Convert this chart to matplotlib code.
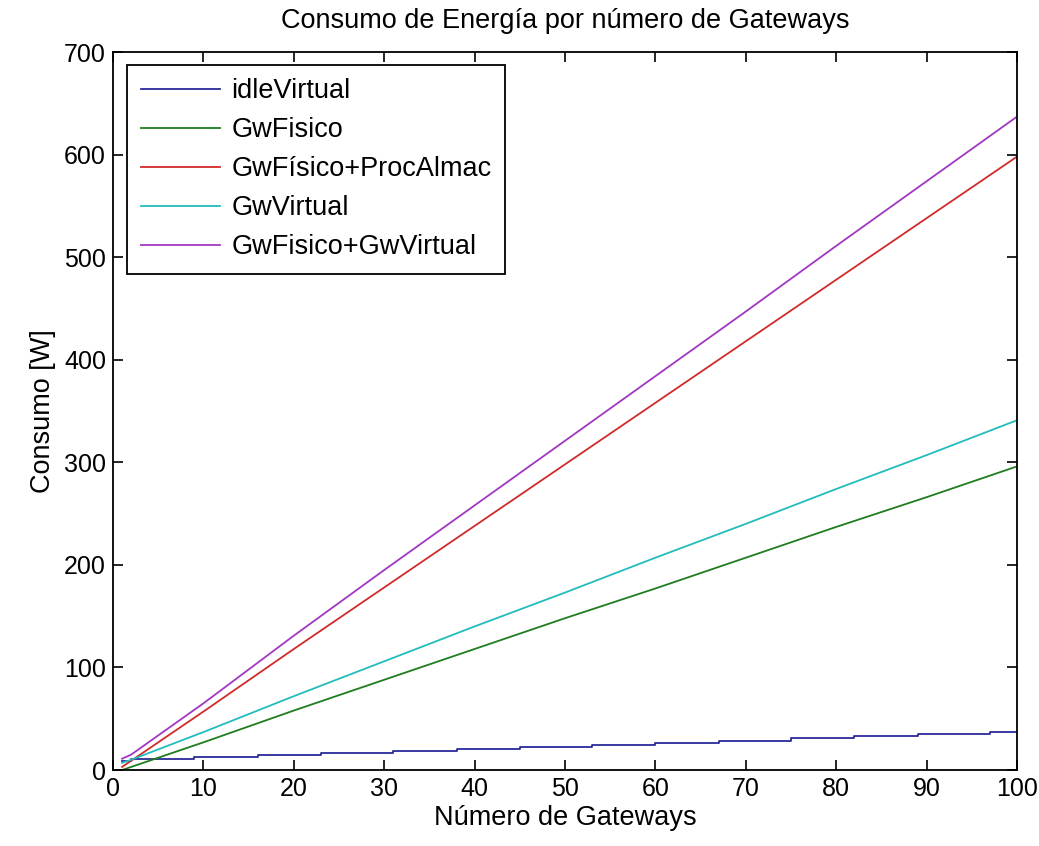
import matplotlib
matplotlib.use("Agg")
import matplotlib.pyplot as plt

# numero de gateways
gateways = [1, 2, 10, 20, 30, 40, 50, 60, 70, 80, 90, 100]

# consumo en W para cada serie
gw_fisico = [0, 3, 27, 58, 88, 118, 148, 177, 207, 237, 266, 296]
gw_fisico_proc = [3, 9, 57, 118, 178, 238, 298, 358, 418, 478, 538, 598]
gw_virtual = [7, 10, 37, 72, 106, 140, 173, 207, 240, 274, 307, 341]
gw_fisico_virtual = [11, 15, 65, 131, 195, 258, 321, 384, 447, 511, 574, 637]

# idleVirtual es escalonado: posicion de cada escalon y su nivel
idle_x = [1, 2, 9, 16, 23, 31, 38, 45, 53, 60, 67, 75, 82, 89, 97, 100]
idle_y = [8.5, 10.4, 12.8, 15.0, 17.0, 19.0, 20.8, 22.7, 24.7, 26.7, 28.7, 30.8, 33.0, 35.2, 37.3, 37.3]

plt.rcParams['font.family'] = ['Liberation Sans', 'DejaVu Sans']

fig = plt.figure(figsize=(10.39, 8.46), dpi=100)
ax = fig.add_axes([0.1088, 0.0898, 0.8700, 0.8487])

ax.plot(idle_x, idle_y, drawstyle='steps-post', color='#2a2a9c', lw=1.3, label='idleVirtual')
ax.plot(gateways, gw_fisico, color='#1f7d1f', lw=1.3, label='GwFisico')
ax.plot(gateways, gw_fisico_proc, color='#d02a2a', lw=1.3, label='GwFísico+ProcAlmac')
ax.plot(gateways, gw_virtual, color='#22bcbc', lw=1.3, label='GwVirtual')
ax.plot(gateways, gw_fisico_virtual, color='#a236c4', lw=1.3, label='GwFisico+GwVirtual')

ax.set_xlim(0, 100)
ax.set_ylim(0, 700)
ax.set_xticks(range(0, 101, 10))
ax.set_yticks(range(0, 701, 100))

# ticks hacia dentro en los cuatro lados, estilo matlab
ax.tick_params(direction='in', length=7, width=1.2, top=True, right=True,
               labelsize=18, pad=5)
for s in ax.spines.values():
    s.set_linewidth(1.3)

ax.set_title('Consumo de Energía por número de Gateways', fontsize=19.5, pad=17)
ax.set_xlabel('Número de Gateways', fontsize=19.5, labelpad=3)
ax.set_ylabel('Consumo [W]', fontsize=19.5, labelpad=6)

leg = ax.legend(loc='upper left', bbox_to_anchor=(0.0155, 0.982), borderaxespad=0,
                fontsize=19.5, handlelength=2.95, handletextpad=0.4, labelspacing=0.48,
                borderpad=0.5, fancybox=False, framealpha=1)
leg.get_frame().set_edgecolor('black')
leg.get_frame().set_linewidth(1.3)

plt.savefig('out.png', dpi=100)
